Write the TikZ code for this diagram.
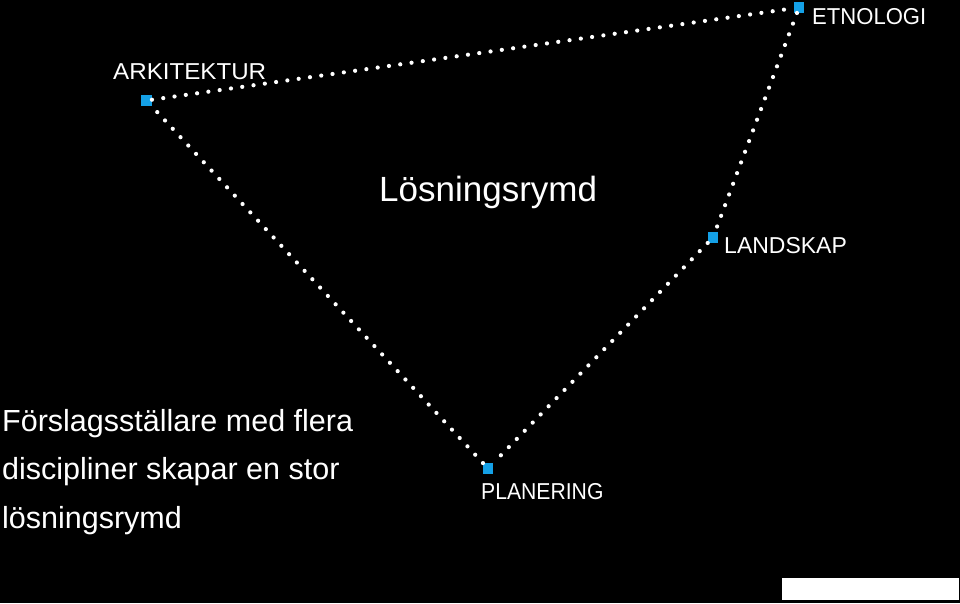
\documentclass[tikz,border=0pt]{standalone}
\usepackage{fontspec}
\setmainfont{Liberation Sans}
\usepackage{xcolor}
\definecolor{discblue}{RGB}{20,160,230}

\tikzset{
    disc/.style={fill=discblue, minimum size=10.5pt, inner sep=0pt},
    disclabel/.style={text=white, font=\fontsize{23}{23}\selectfont, inner sep=0pt, anchor=base west},
    dots/.style={white, line width=4.2pt, line cap=round, dash pattern=on 0pt off 11.4pt}
}

\begin{document}
\begin{tikzpicture}[x=1pt, y=-1pt]
    \fill [black] (0,0) rectangle (960,603);
    \useasboundingbox (0,0) rectangle (960,603);

    \node [disc] (ark) at (146.5,100.5) {};
    \node [disc] (etn) at (799,7.5) {};
    \node [disc] (lan) at (713,237.5) {};
    \node [disc] (pla) at (488,468.5) {};

    \draw [dots] (ark) -- (etn);
    \draw [dots] (etn) -- (lan);
    \draw [dots] (lan) -- (pla);
    \draw [dots] (pla) -- (ark);

    \node [disclabel, xscale=1.05] (arklabel) at (113,79) {ARKITEKTUR};
    \node [disclabel, xscale=0.96] (etnlabel) at (812,24) {ETNOLOGI};
    \node [disclabel] (lanlabel) at (724,253) {LANDSKAP};
    \node [disclabel, xscale=0.92] (plalabel) at (481,499) {PLANERING};

    \node [text=white, font=\fontsize{35}{35}\selectfont, inner sep=0pt, anchor=base west] (rymd) at (379,201) {Lösningsrymd};

    \node [text=white, font=\fontsize{30.5}{48.5}\selectfont, inner sep=0pt, anchor=base west, align=left] (note) at (2,528) {Förslagsställare med flera\\discipliner skapar en stor\\lösningsrymd};

    \fill [white] (782,578) rectangle (959,600);
\end{tikzpicture}
\end{document}
